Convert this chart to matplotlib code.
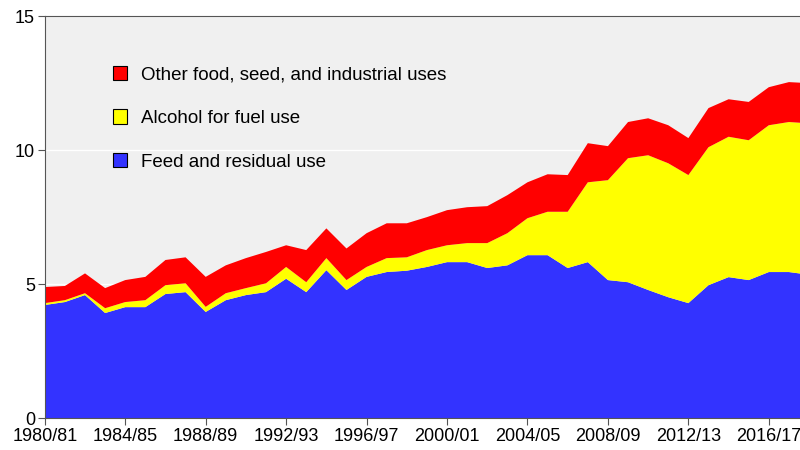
import matplotlib.pyplot as plt
from matplotlib.patches import Patch

plt.rcParams["font.family"] = ["Liberation Sans", "DejaVu Sans"]

years = list(range(1980, 2019))
tick_years = list(range(1980, 2017, 4))

# billion bushels
feed = [4.22, 4.33, 4.59, 3.92, 4.14, 4.14, 4.63, 4.70, 3.96, 4.40,
        4.59, 4.70, 5.20, 4.70, 5.52, 4.78, 5.27, 5.45, 5.50, 5.64,
        5.82, 5.82, 5.60, 5.70, 6.08, 6.08, 5.60, 5.82, 5.15, 5.07,
        4.78, 4.51, 4.29, 4.96, 5.26, 5.15, 5.45, 5.45, 5.35]
alcohol = [0.07, 0.07, 0.07, 0.18, 0.19, 0.26, 0.33, 0.33, 0.19, 0.26,
           0.26, 0.33, 0.44, 0.37, 0.45, 0.37, 0.37, 0.52, 0.50, 0.63,
           0.63, 0.71, 0.93, 1.20, 1.38, 1.62, 2.10, 2.98, 3.73, 4.63,
           5.03, 5.00, 4.78, 5.15, 5.24, 5.22, 5.48, 5.60, 5.65]
other = [0.60, 0.53, 0.74, 0.75, 0.82, 0.87, 0.94, 0.97, 1.12, 1.04,
         1.12, 1.17, 0.81, 1.20, 1.11, 1.18, 1.26, 1.30, 1.27, 1.23,
         1.31, 1.34, 1.38, 1.42, 1.34, 1.40, 1.37, 1.46, 1.27, 1.35,
         1.38, 1.42, 1.38, 1.46, 1.40, 1.43, 1.42, 1.49, 1.50]

labels = ["Feed and residual use", "Alcohol for fuel use",
          "Other food, seed, and industrial uses"]
colors = ["#3333ff", "#ffff00", "#ff0000"]

fig = plt.figure(figsize=(8, 4.5), dpi=100)
ax = fig.add_axes([0.056, 0.071, 0.944, 0.893])
ax.set_facecolor("#f0f0f0")

ax.stackplot(years, feed, alcohol, other, colors=colors, linewidth=0)

ax.set_xlim(1980, 2017.55)
ax.set_ylim(0, 15)
ax.set_yticks([0, 5, 10, 15])
ax.set_xticks(tick_years)
ax.set_xticklabels([f"{y}/{str(y + 1)[-2:]}" for y in tick_years])
ax.tick_params(labelsize=13, color="#555555", length=5, pad=2)

ax.yaxis.grid(True, color="white", linewidth=1)
ax.set_axisbelow(True)
ax.spines["right"].set_visible(False)
for side in ["left", "top", "bottom"]:
    ax.spines[side].set_color("#555555")

handles = [Patch(facecolor=colors[i], edgecolor="black", linewidth=0.8)
           for i in [2, 1, 0]]
ax.legend(handles, [labels[i] for i in [2, 1, 0]], loc="upper left",
          bbox_to_anchor=(0.09, 0.876), frameon=False, fontsize=13.5,
          handlelength=0.78, handleheight=0.78, handletextpad=0.7,
          labelspacing=1.38, borderpad=0, borderaxespad=0)

plt.savefig("out.png")
